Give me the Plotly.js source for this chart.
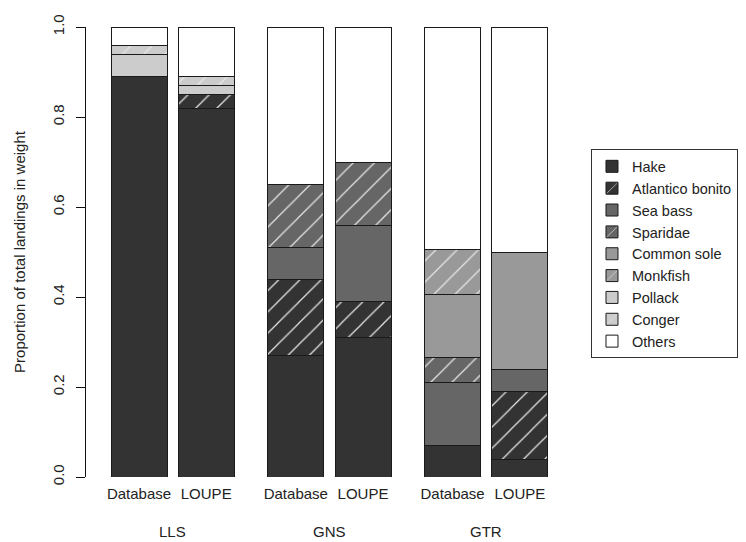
<!DOCTYPE html>
<html>
<head>
<meta charset="utf-8">
<script src="https://cdn.plot.ly/plotly-3.0.1.min.js"></script>
<style>
  html, body { margin: 0; padding: 0; background: #ffffff; }
  #chart { width: 746px; height: 542px; }
</style>
</head>
<body>
<div id="chart"></div>
<script>
// Gear types and data sources
const gears = ["LLS", "GNS", "GTR"];
const sources = ["Database", "LOUPE"];

// Species, stacked from the bottom up
const species = ["Hake", "Atlantico bonito", "Sea bass", "Sparidae", "Common sole",
                 "Monkfish", "Pollack", "Conger", "Others"];

// Proportion of landings per bar: LLS-Database, LLS-LOUPE, GNS-Database, GNS-LOUPE, GTR-Database, GTR-LOUPE
const hake        = [0.89, 0.82, 0.27, 0.31, 0.07, 0.04];
const bonito      = [0,    0.03, 0.17, 0.08, 0,    0.15];
const seaBass     = [0,    0,    0.07, 0.17, 0.14, 0.05];
const sparidae    = [0,    0,    0.14, 0.14, 0.055, 0];
const commonSole  = [0,    0,    0,    0,    0.14, 0.26];
const monkfish    = [0,    0,    0,    0,    0.10, 0];
const pollack     = [0.05, 0.02, 0,    0,    0,    0];
const conger      = [0.02, 0.02, 0,    0,    0,    0];
const others      = [0.04, 0.11, 0.35, 0.30, 0.495, 0.50];

const yTicks = [0, 0.2, 0.4, 0.6, 0.8, 1.0];

// Fill grey and hatching for each species
const fills   = ["#333333", "#333333", "#666666", "#666666", "#999999", "#999999", "#cccccc", "#cccccc", "#ffffff"];
const hatched = [false, true, false, true, false, true, false, true, false];

const seriesValues = [hake, bonito, seaBass, sparidae, commonSole, monkfish, pollack, conger, others];

// Bar positions in bar-width units: 0.2 gap inside a gear, 0.6 between gears
const innerGap = 0.2, outerGap = 0.6;
const positions = [];
const tickText = [];
let cursor = 0;
gears.forEach((g, gi) => {
  sources.forEach((s, si) => {
    cursor += (si === 0 && gi > 0) ? outerGap : innerGap;
    positions.push(cursor + 0.5);
    tickText.push(s);
    cursor += 1;
  });
});
const gearCentres = gears.map((g, gi) => (positions[gi * 2] + positions[gi * 2 + 1]) / 2);

const traces = species.map((name, i) => {
  const marker = {
    color: fills[i],
    line: { color: "#1a1a1a", width: 1 }
  };
  if (hatched[i]) {
    marker.pattern = {
      shape: "/",
      bgcolor: fills[i],
      fgcolor: "#e8e8e8",
      size: 15,
      solidity: 0.08,
      fillmode: "replace"
    };
  }
  return {
    type: "bar",
    name: name,
    x: positions,
    y: seriesValues[i].map(v => (v === 0 ? null : v)),
    width: 1,
    marker: marker,
    hoverinfo: "name+y"
  };
});

const font = { family: "Liberation Sans, Arial, sans-serif", size: 15, color: "#222222" };

const layout = {
  width: 746,
  height: 542,
  barmode: "stack",
  paper_bgcolor: "#ffffff",
  plot_bgcolor: "#ffffff",
  font: font,
  margin: { l: 86, r: 170, t: 27, b: 65, autoexpand: false },
  showlegend: true,
  legend: {
    x: 1.0306,
    y: 0.728,
    xanchor: "left",
    yanchor: "top",
    traceorder: "normal",
    bgcolor: "#ffffff",
    bordercolor: "#333333",
    borderwidth: 1,
    entrywidth: 125,
    entrywidthmode: "pixels",
    font: { family: font.family, size: 14.5, color: "#222222" }
  },
  xaxis: {
    range: [-0.2464, 8.5036],
    tickvals: positions,
    ticktext: tickText,
    showline: false,
    showgrid: false,
    zeroline: false,
    ticks: "",
    ticklabelstandoff: 6,
    tickfont: font,
    fixedrange: true
  },
  yaxis: {
    range: [0, 1],
    tickvals: yTicks,
    tickformat: ".1f",
    tickangle: -90,
    ticks: "outside",
    ticklen: 9,
    tickwidth: 1,
    tickcolor: "#111111",
    showline: true,
    linecolor: "#111111",
    linewidth: 1,
    showgrid: false,
    zeroline: false,
    ticklabelstandoff: 6,
    tickfont: font,
    title: { text: "Proportion of total landings in weight", font: font, standoff: 20 },
    fixedrange: true
  },
  annotations: gears.map((g, gi) => ({
    x: gearCentres[gi],
    y: -0.12,
    xref: "x",
    yref: "paper",
    text: g,
    showarrow: false,
    xanchor: "center",
    yanchor: "middle",
    font: font
  }))
};

Plotly.newPlot("chart", traces, layout, { displayModeBar: false, staticPlot: true });
</script>
</body>
</html>
